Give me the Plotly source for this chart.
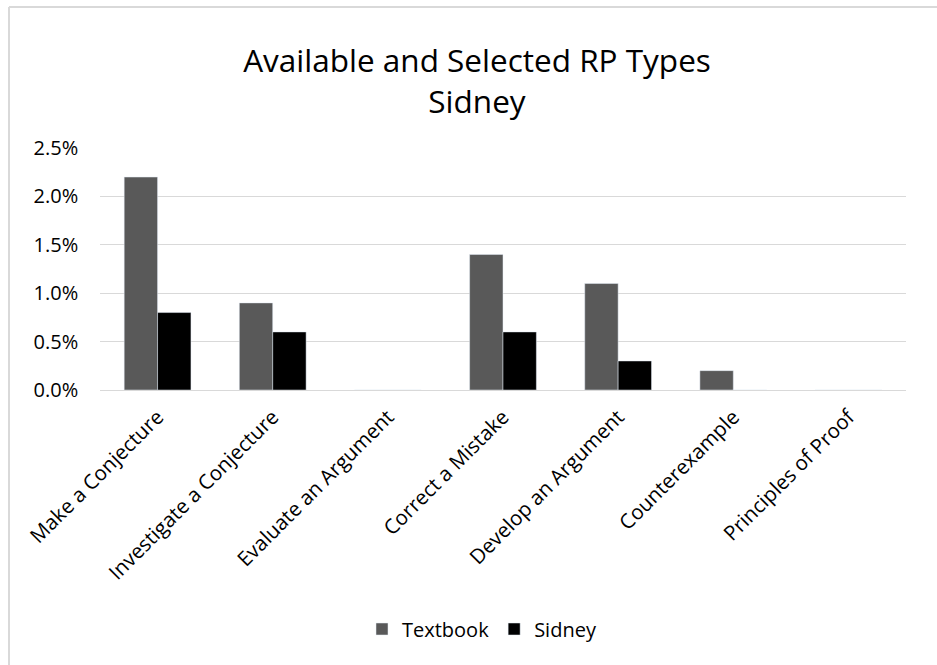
import plotly.graph_objects as go

categories = ["Make a Conjecture", "Investigate a Conjecture", "Evaluate an Argument",
              "Correct a Mistake", "Develop an Argument", "Counterexample", "Principles of Proof"]
textbook = [0.022, 0.009, 0.0, 0.014, 0.011, 0.002, 0.0]
sidney = [0.008, 0.006, 0.0, 0.006, 0.003, 0.0, 0.0]

FONT = "Open Sans"

fig = go.Figure()
fig.add_trace(go.Bar(name="Textbook", x=categories, y=textbook, marker_color="#595959"))
fig.add_trace(go.Bar(name="Sidney", x=categories, y=sidney, marker_color="#000000"))

L, R, T, B = 100, 31, 148, 275
W, H = 937, 665
pw, ph = W - L - R, H - T - B

def px_x(x):
    return (x - L) / pw

def px_y(y):
    return (H - B - y) / ph

fig.update_layout(
    width=W, height=H,
    margin=dict(l=L, r=R, t=T, b=B, autoexpand=False),
    paper_bgcolor="white", plot_bgcolor="white",
    barmode="group", bargap=0.42, bargroupgap=0,
    title=dict(text="Available and Selected RP Types<br>Sidney", x=477 / W, xanchor="center",
               y=1 - 72 / H, yanchor="middle",
               font=dict(family=FONT, size=31.5, color="#000000")),
    font=dict(family=FONT, color="#595959"),
    showlegend=True,
    legend=dict(orientation="h", xref="container", x=482 / W, xanchor="center",
                y=px_y(629), yanchor="middle", itemwidth=30,
                font=dict(family=FONT, size=20, color="#000000"), traceorder="normal"),
    xaxis=dict(tickangle=-45, tickfont=dict(family=FONT, size=20.5, color="#000000"),
               showline=False, showgrid=False, ticks="", ticklabelstandoff=10),
    yaxis=dict(range=[0, 0.025], dtick=0.005, tickformat=".1%",
               tickfont=dict(family=FONT, size=20, color="#000000"),
               showgrid=True, gridcolor="#d9d9d9", gridwidth=1,
               zeroline=True, zerolinecolor="#d9d9d9", zerolinewidth=1,
               showline=False, ticks="", ticklen=0, ticksuffix="    "),
    shapes=[
        dict(type="line", xref="paper", yref="paper", x0=px_x(9), x1=px_x(W + 5),
             y0=px_y(7), y1=px_y(7), line=dict(color="#d9d9d9", width=2)),
        dict(type="line", xref="paper", yref="paper", x0=px_x(9), x1=px_x(9),
             y0=px_y(7), y1=px_y(H + 5), line=dict(color="#d9d9d9", width=2)),
    ],
)

fig.write_html("out.html", config={"displayModeBar": False},
               post_script="document.body.style.margin='0';document.body.style.overflow='hidden';")
